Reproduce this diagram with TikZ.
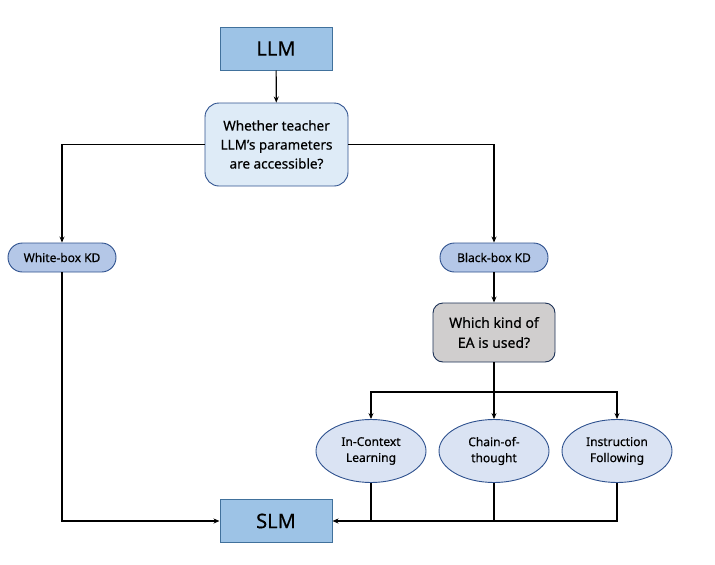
\documentclass[tikz,border=0pt]{standalone}
\usepackage{fontspec}
\setmainfont{Noto Sans}[FakeBold=0.5]
\usetikzlibrary{arrows.meta,shapes.geometric}

\definecolor{modelfill}{HTML}{9DC3E6}
\definecolor{modeldraw}{HTML}{41719C}
\definecolor{askfill}{HTML}{DEEBF7}
\definecolor{pillfill}{HTML}{B4C7E7}
\definecolor{darkline}{HTML}{2F528F}
\definecolor{grayfill}{HTML}{D0CECE}
\definecolor{ellfill}{HTML}{DAE3F3}

\begin{document}
\begin{tikzpicture}[x=1pt,y=-1pt,
    model/.style={draw=modeldraw, fill=modelfill, line width=1pt, minimum width=112pt, minimum height=43pt, inner sep=0pt, font=\fontsize{20}{22}\selectfont},
    ask/.style={draw=darkline, fill=askfill, line width=0.9pt, rounded corners=14pt, minimum width=143pt, minimum height=83pt, inner sep=0pt, align=center, font=\fontsize{13.5}{19}\selectfont},
    pill/.style={draw=darkline, fill=pillfill, line width=0.9pt, rounded corners=14.5pt, minimum width=108pt, minimum height=29pt, inner sep=0pt, font=\fontsize{12}{14}\selectfont},
    kind/.style={draw=darkline!60!black, fill=grayfill, line width=0.9pt, rounded corners=10pt, minimum width=122pt, minimum height=59pt, inner sep=0pt, align=center, font=\fontsize{14}{20}\selectfont},
    way/.style={ellipse, draw=darkline, fill=ellfill, line width=0.9pt, minimum width=110pt, minimum height=63pt, inner sep=0pt, align=center, font=\fontsize{12}{16}\selectfont},
    link/.style={line width=1.2pt, -{Stealth[length=6pt,width=5pt]}},
    bar/.style={line width=1.2pt}]
    \useasboundingbox (0,0) rectangle (715,565);

    \node[model] (LLM) at (276,48.5) {LLM};
    \node[ask] (Ask) at (276.5,144.5) {Whether teacher\\LLM’s parameters\\are accessible?};
    \node[pill] (WB) at (62,257.5) {White-box KD};
    \node[pill] (BB) at (494,257.5) {Black-box KD};
    \node[kind] (EA) at (494,332.5) {Which kind of\\EA is used?};
    \node[way] (ICL) at (371,451) {In-Context\\Learning};
    \node[way] (CoT) at (494,451) {Chain-of-\\thought};
    \node[way] (IF) at (617,451) {Instruction\\Following};
    \node[model] (SLM) at (276,521) {SLM};
    \coordinate (split) at (494,392);

    \draw[link] (LLM) -- (Ask);
    \draw[link] (Ask.west) -| (WB);
    \draw[link] (Ask.east) -| (BB);
    \draw[link] (BB) -- (EA);
    \draw[bar] (EA) -- (split);
    \draw[link] (split) -| (ICL);
    \draw[link] (split) -- (CoT);
    \draw[link] (split) -| (IF);
    \draw[link] (WB) |- (SLM);
    \draw[link, line width=1.8pt] (IF) |- (SLM);
    \draw[bar] (ICL) -- (ICL |- SLM);
    \draw[bar] (CoT) -- (CoT |- SLM);

\end{tikzpicture}
\end{document}
